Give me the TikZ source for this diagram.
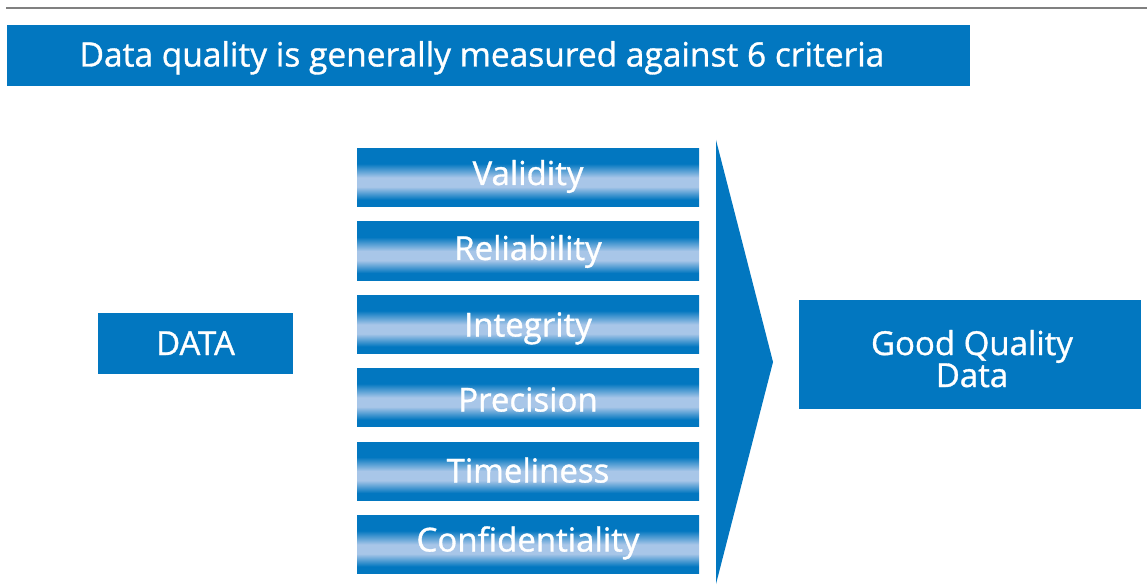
\documentclass[tikz,border=0pt]{standalone}
\usepackage{fontspec}
\setmainfont{Open Sans}[FakeBold=1]
\definecolor{dk}{RGB}{2,119,192}
\definecolor{lt}{RGB}{168,198,232}
\definecolor{rule}{RGB}{128,128,128}
\pgfdeclareverticalshading{barshade}{100bp}{color(0bp)=(dk); color(25bp)=(dk); color(31bp)=(dk); color(42bp)=(lt); color(50bp)=(lt); color(62bp)=(dk); color(75bp)=(dk); color(100bp)=(dk)}
\newcommand{\lbl}[2]{\raisebox{#1}[0pt][0pt]{#2}}
\begin{document}
\begin{tikzpicture}[x=1pt,y=-1pt,
  box/.style={fill=dk, text=white, inner sep=0pt, font=\fontsize{33}{32}\selectfont, align=center},
  bar/.style={shading=barshade, text=white, inner sep=0pt, minimum width=342pt, minimum height=58pt, font=\fontsize{33}{32}\selectfont}]
\useasboundingbox (0,0) rectangle (1147,585);
\fill[white] (0,0) rectangle (1147,585);
\draw[rule, line width=2pt] (6,8) coordinate (l1) -- (1147,8) coordinate (l2);
\node[box, minimum width=963pt, minimum height=61pt, font=\fontsize{33.5}{32}\selectfont] (title) at (488.5,55.5) {\hspace*{-13pt}\lbl{-11pt}{Data quality is generally measured against 6 criteria}};
\node[box, minimum width=195pt, minimum height=61pt] (data) at (195.5,343.5) {\lbl{-11.5pt}{DATA}};
\node[bar] (b1) at (528,177.5) {\lbl{-7.5pt}{Validity}};
\node[bar] (b2) at (528,251) {\lbl{-9pt}{Reliability}};
\node[bar] (b3) at (528,324.5) {\lbl{-12pt}{Integrity}};
\node[bar] (b4) at (528,397.5) {\lbl{-14pt}{Precision}};
\node[bar] (b5) at (528,471) {\lbl{-11.5pt}{Timeliness}};
\node[bar] (b6) at (528,544.5) {\lbl{-7pt}{Confidentiality}};
\fill[dk] (716,140) -- (773,362) -- (716,584) -- cycle;
\node[box, minimum width=342pt, minimum height=109pt] (good) at (970,354.5) {\lbl{-0.5pt}{\parbox[t]{342pt}{\centering\hspace*{4pt}Good Quality\\\hspace*{4pt}Data}}};
\end{tikzpicture}
\end{document}
